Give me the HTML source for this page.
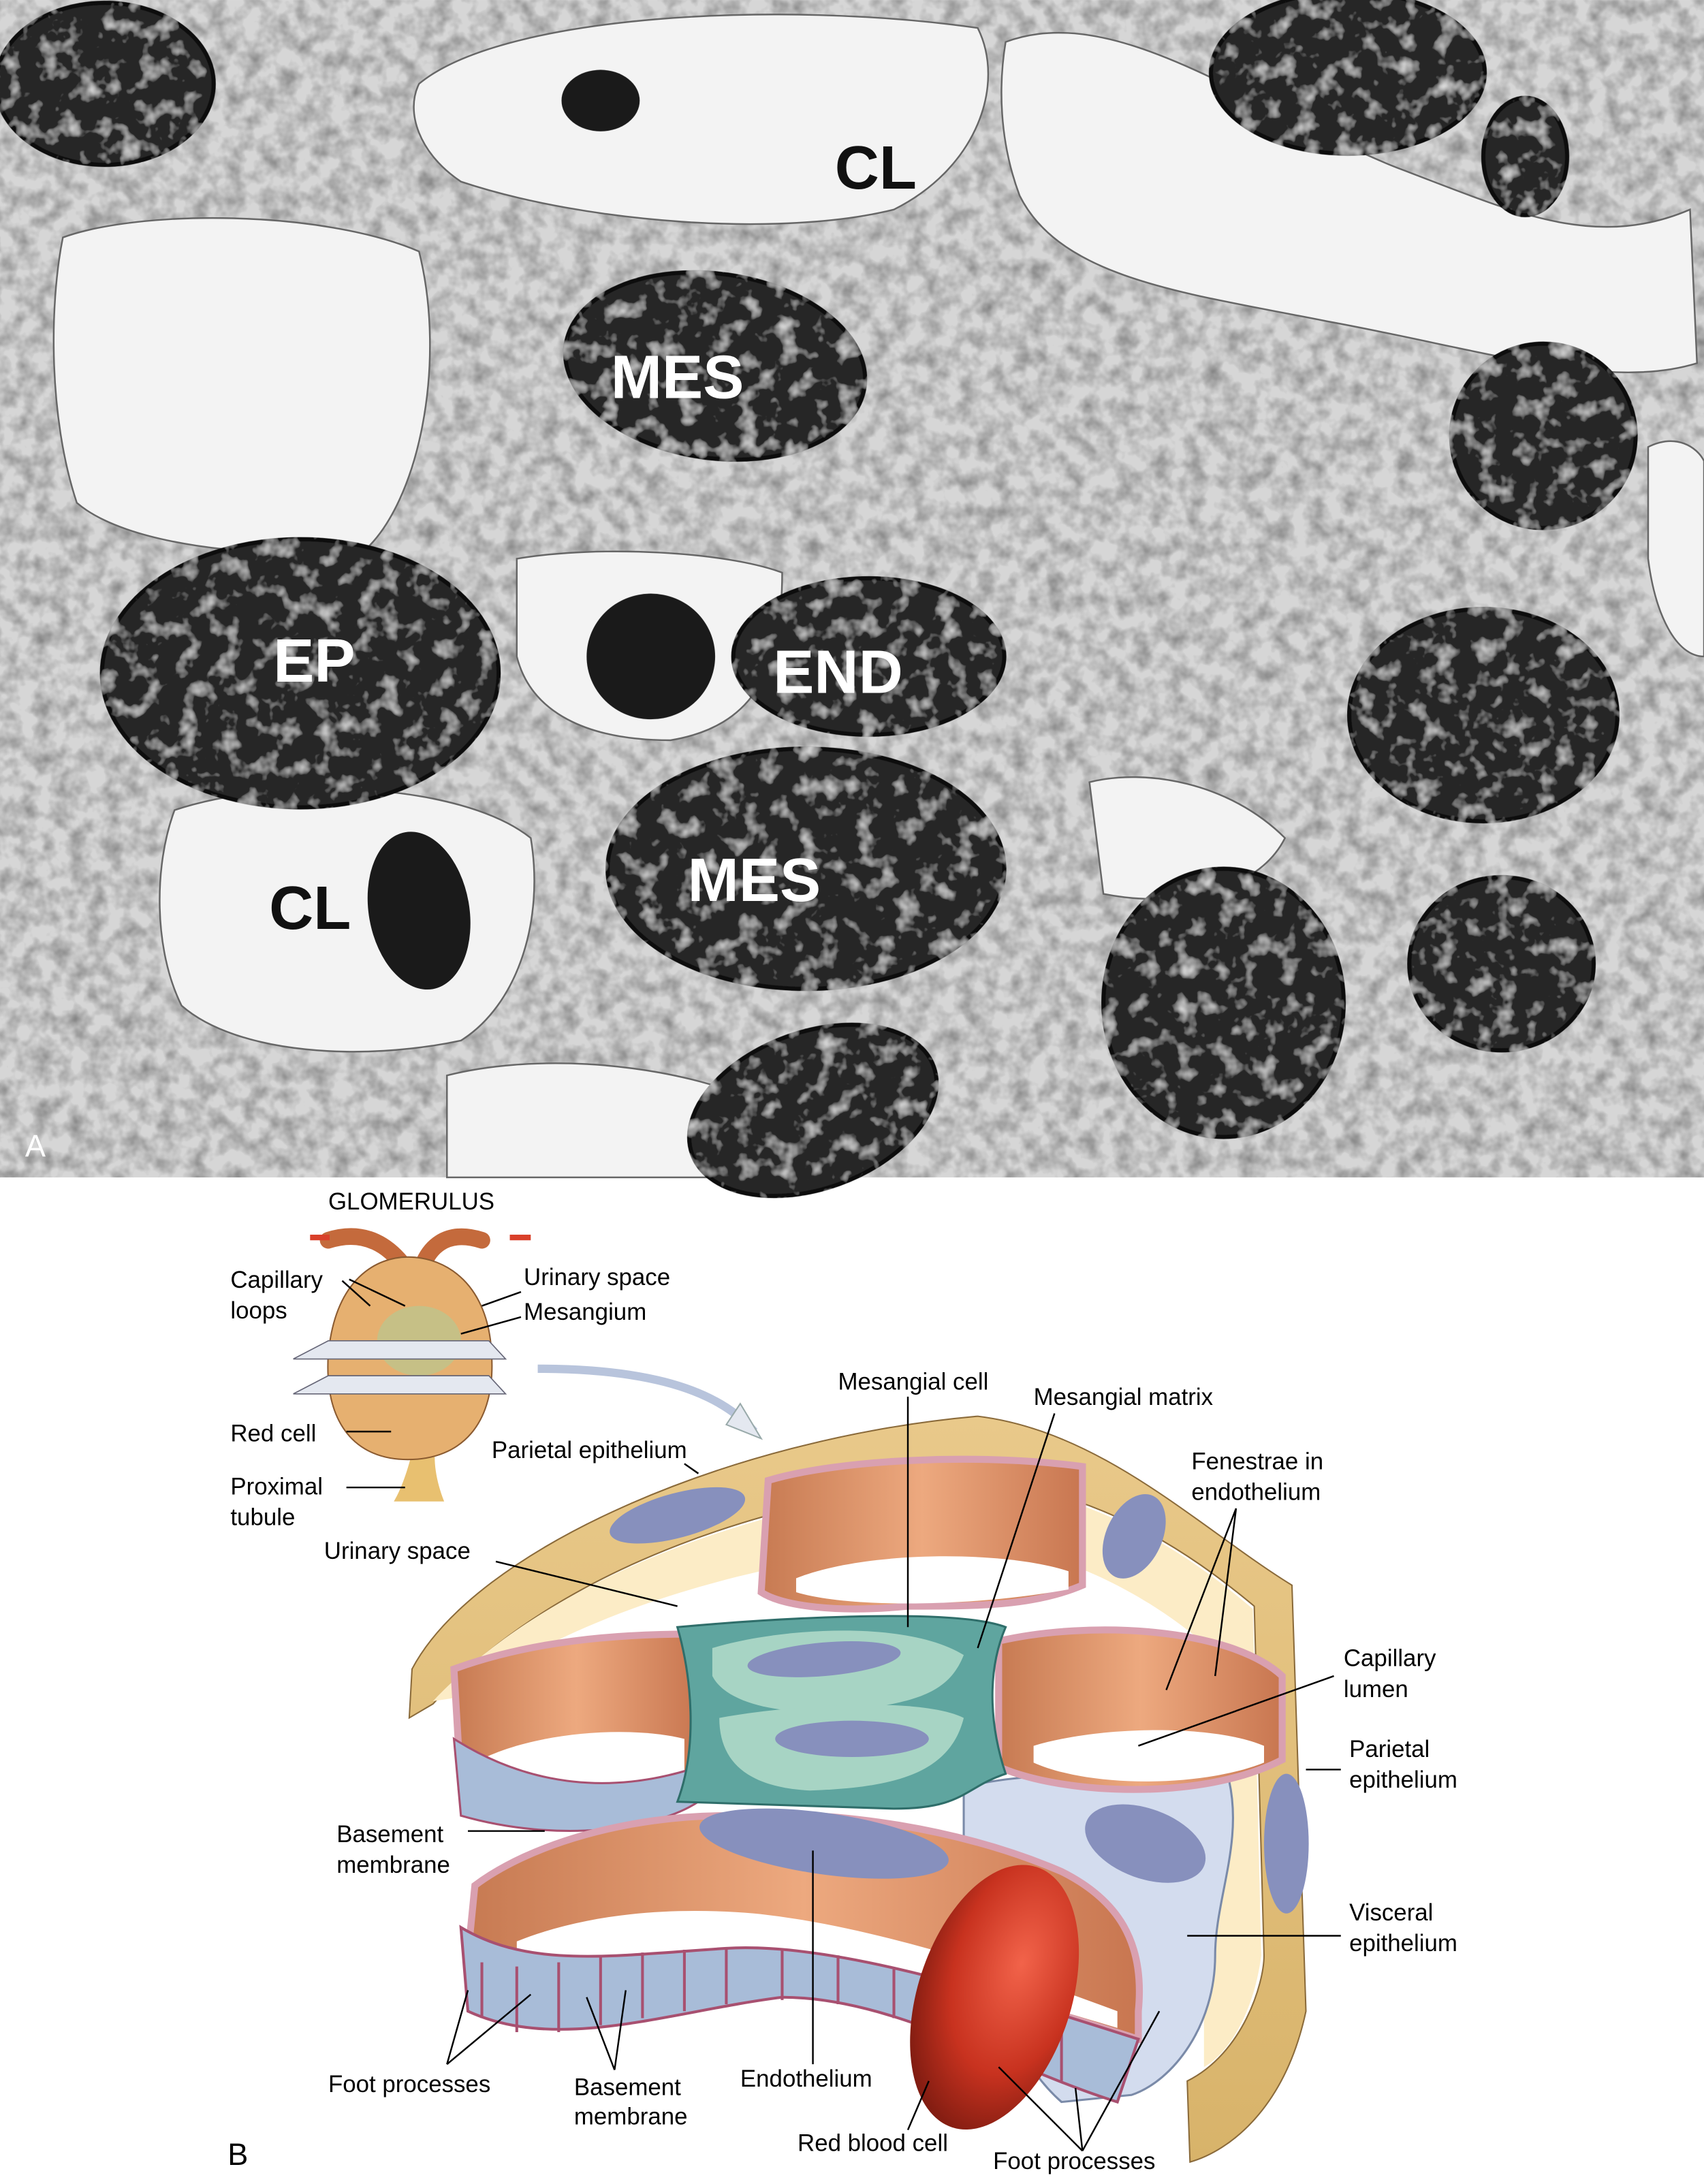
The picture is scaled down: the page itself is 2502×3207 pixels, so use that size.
<!DOCTYPE html>
<html><head><meta charset="utf-8"><style>
html,body{margin:0;padding:0;background:#fff}
svg{display:block}
text{font-family:"Liberation Sans",sans-serif}
</style></head><body>
<svg width="2502" height="3207" viewBox="0 0 1220 1563.7" xmlns="http://www.w3.org/2000/svg">
<defs>
<filter id="tex" x="0" y="0" width="100%" height="100%">
<feTurbulence type="fractalNoise" baseFrequency="0.08" numOctaves="3" seed="3"/>
<feColorMatrix values="0 0 0 0 0  0 0 0 0 0  0 0 0 0 0  0 0 0 -1.4 0.9"/>
<feComposite in2="SourceGraphic" operator="in"/>
</filter>
<filter id="nuc"><feTurbulence type="fractalNoise" baseFrequency="0.07" numOctaves="3" seed="7" result="n"/>
<feColorMatrix in="n" values="0 0 0 0 .8  0 0 0 0 .8  0 0 0 0 .8  0 0 0 2 -1.05" result="w"/>
<feComposite in="w" in2="SourceGraphic" operator="in" result="s"/>
<feMerge><feMergeNode in="SourceGraphic"/><feMergeNode in="s"/></feMerge></filter>
<linearGradient id="loop" x1="0" x2="1"><stop offset="0" stop-color="#c77a52"/><stop offset=".5" stop-color="#eda97f"/><stop offset="1" stop-color="#c87650"/></linearGradient>
<radialGradient id="rbc" cx=".6" cy=".35" r=".7"><stop offset="0" stop-color="#f2634a"/><stop offset=".6" stop-color="#c8321f"/><stop offset="1" stop-color="#7a1a10"/></radialGradient>
<linearGradient id="shell" x1="0" x2="0" y1="0" y2="1"><stop offset="0" stop-color="#e9c98a"/><stop offset="1" stop-color="#d8b36a"/></linearGradient>
</defs>

<!-- ===== Micrograph A ===== -->
<rect x="0" y="0" width="1220" height="843" fill="#d6d6d6"/>
<rect x="0" y="0" width="1220" height="843" fill="#8a8a8a" filter="url(#tex)" opacity=".45"/>
<g fill="#f3f3f3" stroke="#666" stroke-width="1.2">
<path d="M300,60 C360,10 560,0 700,20 C720,60 700,120 640,150 C560,170 420,160 330,130 C300,110 290,80 300,60Z"/>
<path d="M720,30 C800,0 900,80 1000,120 C1080,150 1140,180 1210,150 L1215,260 C1150,280 1060,250 950,230 C850,210 760,200 730,140 C715,100 715,60 720,30Z"/>
<path d="M45,170 C100,150 230,150 300,180 C320,260 300,360 260,395 C180,400 90,390 55,360 C35,300 35,220 45,170Z"/>
<path d="M125,580 C200,555 330,560 380,600 C390,660 370,720 330,745 C260,760 170,755 130,720 C110,680 110,620 125,580Z"/>
<path d="M370,400 C430,390 520,395 560,410 C560,480 540,520 480,530 C420,530 380,510 370,470Z"/>
<path d="M320,770 C380,755 460,760 520,780 L520,843 L320,843Z"/>
<path d="M780,560 C820,550 880,560 920,600 C900,640 840,650 790,640Z"/>
<path d="M1180,320 C1200,310 1215,320 1220,330 L1220,470 C1200,470 1185,440 1180,400Z"/>
</g>
<g fill="#262626" stroke="#111" stroke-width="3" filter="url(#nuc)">
<ellipse cx="75" cy="60" rx="78" ry="58"/>
<ellipse cx="965" cy="52" rx="98" ry="58"/>
<ellipse cx="1092" cy="112" rx="30" ry="42"/>
<ellipse cx="512" cy="262" rx="108" ry="66" transform="rotate(8 512 262)"/>
<ellipse cx="1105" cy="312" rx="66" ry="66"/>
<ellipse cx="215" cy="482" rx="142" ry="96"/>
<ellipse cx="622" cy="470" rx="97" ry="56"/>
<ellipse cx="1062" cy="512" rx="96" ry="76"/>
<ellipse cx="577" cy="622" rx="142" ry="86"/>
<ellipse cx="876" cy="718" rx="86" ry="96"/>
<ellipse cx="1075" cy="690" rx="66" ry="62"/>
<ellipse cx="582" cy="795" rx="92" ry="56" transform="rotate(-20 582 795)"/>
</g>
<g fill="#1a1a1a">
<ellipse cx="430" cy="72" rx="28" ry="22"/>
<ellipse cx="466" cy="470" rx="46" ry="45"/>
<ellipse cx="300" cy="652" rx="36" ry="57" transform="rotate(-10 300 652)"/>
</g>
<g font-weight="bold" font-size="44" text-anchor="middle">
<text x="627" y="135" fill="#111">CL</text>
<text x="222" y="665" fill="#111">CL</text>
<text x="485" y="285" fill="#fff">MES</text>
<text x="225" y="488" fill="#fff">EP</text>
<text x="600" y="496" fill="#fff">END</text>
<text x="540" y="645" fill="#fff">MES</text>
</g>
<text x="18" y="828" font-size="22" fill="#fff">A</text>

<!-- ===== Diagram B ===== -->
<text x="235" y="866" font-size="17">GLOMERULUS</text>
<path d="M235,888 C260,880 280,890 295,915 M345,888 C320,880 305,892 300,915" stroke="#c46a3c" stroke-width="12" fill="none" stroke-linecap="round"/>
<path d="M222,886 L236,886 M365,886 L380,886" stroke="#d9402a" stroke-width="4"/>
<path d="M295,1040 C290,1060 285,1070 282,1075 L318,1075 C312,1060 310,1045 312,1035Z" fill="#e8c070"/>
<path d="M235,970 C240,915 270,900 292,900 C320,900 350,920 352,970 C355,1020 330,1045 292,1045 C255,1045 232,1020 235,970Z" fill="#e6b070" stroke="#8a5a30" stroke-width="1"/>
<ellipse cx="300" cy="960" rx="30" ry="25" fill="#b8c890" opacity=".7"/>
<path d="M210,973 L235,960 L350,960 L362,973Z" fill="#e4e8f0" stroke="#667" stroke-width=".8"/>
<path d="M210,998 L235,985 L350,985 L362,998Z" fill="#e4e8f0" stroke="#667" stroke-width=".8"/>
<path d="M385,980 C450,980 510,990 540,1025" stroke="#b8c4dc" stroke-width="6" fill="none"/>
<path d="M530,1005 L545,1030 L520,1020Z" fill="#e4e8f0" stroke="#9aa"/>
<g font-size="17">
<text x="165" y="922">Capillary</text><text x="165" y="944">loops</text>
<text x="375" y="920">Urinary space</text><text x="375" y="945">Mesangium</text>
<text x="165" y="1032">Red cell</text>
<text x="165" y="1070">Proximal</text><text x="165" y="1092">tubule</text>
<text x="352" y="1044">Parietal epithelium</text>
<text x="232" y="1116">Urinary space</text>
<text x="600" y="995">Mesangial cell</text>
<text x="740" y="1006">Mesangial matrix</text>
<text x="853" y="1052">Fenestrae in</text><text x="853" y="1074">endothelium</text>
<text x="962" y="1193">Capillary</text><text x="962" y="1215">lumen</text>
<text x="966" y="1258">Parietal</text><text x="966" y="1280">epithelium</text>
<text x="966" y="1375">Visceral</text><text x="966" y="1397">epithelium</text>
<text x="241" y="1319">Basement</text><text x="241" y="1341">membrane</text>
<text x="235" y="1498">Foot processes</text>
<text x="411" y="1500">Basement</text><text x="411" y="1521">membrane</text>
<text x="530" y="1494">Endothelium</text>
<text x="571" y="1540">Red blood cell</text>
<text x="711" y="1553">Foot processes</text>
</g>
<text x="163" y="1550" font-size="22">B</text>

<!-- shell band -->
<path d="M293,1230 L295,1195 C340,1110 520,1030 700,1014 C790,1025 860,1095 925,1135 L935,1440 C920,1510 880,1540 852,1548 L850,1490 C890,1470 905,1420 905,1400 L898,1150 C850,1110 790,1070 700,1058 C560,1070 400,1120 310,1220 Z" fill="url(#shell)" stroke="#8a6a3a" stroke-width="1"/>
<path d="M310,1218 C400,1122 560,1072 700,1060 C790,1072 850,1112 897,1152 L903,1400 C898,1440 880,1470 862,1480 L862,1290 C875,1250 875,1200 866,1180 C820,1140 760,1110 700,1105 C560,1110 420,1150 330,1215 Z" fill="#fcecc6"/>
<ellipse cx="485" cy="1085" rx="50" ry="16" fill="#8790bd" transform="rotate(-15 485 1085)"/>
<ellipse cx="812" cy="1100" rx="20" ry="32" fill="#8790bd" transform="rotate(25 812 1100)"/>
<ellipse cx="921" cy="1320" rx="16" ry="50" fill="#8790bd"/>
<!-- visceral epi -->
<path d="M690,1280 C720,1270 820,1265 880,1275 C890,1320 870,1360 870,1400 C870,1450 840,1490 810,1500 L760,1505 C720,1470 700,1400 690,1330Z" fill="#d3dcee" stroke="#7a8aa8" stroke-width="1.5"/>
<ellipse cx="820" cy="1320" rx="45" ry="25" fill="#8790bd" transform="rotate(20 820 1320)"/>
<!-- top loop -->
<path d="M550,1060 C600,1045 700,1040 775,1050 L775,1135 C740,1150 700,1150 650,1150 C600,1155 560,1150 545,1140Z" fill="url(#loop)" stroke="#d9a0b0" stroke-width="5"/>
<path d="M570,1130 C620,1110 720,1110 765,1125 L765,1138 C700,1150 610,1152 570,1140Z" fill="#fff"/>
<!-- left loop -->
<path d="M325,1195 C380,1175 440,1170 495,1170 L500,1270 C470,1290 400,1300 330,1280Z" fill="url(#loop)" stroke="#d9a0b0" stroke-width="5"/>
<path d="M340,1262 C380,1240 450,1235 490,1245 L490,1270 C450,1285 390,1285 340,1275Z" fill="#fff"/>
<path d="M325,1245 L330,1300 C400,1320 470,1310 500,1290 L500,1265 C440,1285 380,1280 325,1245Z" fill="#a8bcd8" stroke="#a85070" stroke-width="1.5"/>
<!-- right loop -->
<path d="M715,1175 C780,1160 880,1165 918,1200 L918,1260 C860,1290 760,1285 715,1265Z" fill="url(#loop)" stroke="#d9a0b0" stroke-width="5"/>
<path d="M740,1250 C790,1235 870,1235 905,1250 L905,1262 C860,1280 780,1280 740,1262Z" fill="#fff"/>
<!-- mesangium -->
<path d="M485,1165 C540,1160 680,1150 720,1165 C705,1200 710,1240 720,1270 C690,1280 690,1295 640,1295 L485,1290 C500,1250 495,1200 485,1165Z" fill="#5fa59f" stroke="#2f6e6a" stroke-width="1.5"/>
<path d="M510,1180 C560,1165 650,1160 690,1185 C680,1210 660,1220 600,1225 C560,1228 520,1220 510,1200Z" fill="#a7d4c4"/>
<path d="M515,1230 C570,1220 660,1215 690,1230 C680,1270 640,1280 580,1282 C540,1280 515,1265 515,1230Z" fill="#a7d4c4"/>
<ellipse cx="590" cy="1188" rx="55" ry="12" fill="#8790bd" transform="rotate(-5 590 1188)"/>
<ellipse cx="610" cy="1245" rx="55" ry="13" fill="#8790bd"/>
<!-- front loop -->
<path d="M340,1350 C380,1320 450,1300 520,1300 C600,1295 690,1310 760,1340 C800,1360 820,1390 815,1440 L815,1460 C720,1430 600,1390 520,1395 C440,1400 380,1410 335,1400Z" fill="url(#loop)" stroke="#d9a0b0" stroke-width="5"/>
<path d="M370,1390 C420,1370 480,1365 540,1370 C620,1378 720,1410 800,1440 L800,1452 C720,1428 600,1392 520,1396 C440,1400 390,1405 370,1400Z" fill="#fff"/>
<ellipse cx="590" cy="1320" rx="90" ry="22" fill="#8790bd" transform="rotate(8 590 1320)"/>
<path d="M330,1380 L335,1440 C400,1470 480,1440 560,1430 C640,1430 720,1480 800,1505 L815,1460 C720,1430 600,1390 520,1395 C440,1400 380,1410 330,1380Z" fill="#a8bcd8" stroke="#a85070" stroke-width="2"/>
<g stroke="#a85070" stroke-width="2">
<line x1="345" y1="1405" x2="345" y2="1445"/><line x1="370" y1="1408" x2="370" y2="1455"/><line x1="400" y1="1405" x2="400" y2="1455"/><line x1="430" y1="1400" x2="430" y2="1450"/><line x1="460" y1="1398" x2="460" y2="1445"/><line x1="490" y1="1396" x2="490" y2="1440"/><line x1="520" y1="1395" x2="520" y2="1435"/><line x1="560" y1="1395" x2="560" y2="1432"/><line x1="600" y1="1400" x2="600" y2="1435"/><line x1="640" y1="1410" x2="640" y2="1445"/><line x1="680" y1="1420" x2="680" y2="1460"/><line x1="720" y1="1430" x2="720" y2="1475"/><line x1="760" y1="1445" x2="760" y2="1490"/>
</g>
<ellipse cx="712" cy="1430" rx="55" ry="98" fill="url(#rbc)" transform="rotate(18 712 1430)"/>
<g stroke="#000" stroke-width="1.2" fill="none">
<path d="M245,917 L265,935 M250,916 L290,935 M373,925 L345,935 M373,943 L330,955"/>
<path d="M248,1025 L280,1025 M248,1065 L290,1065"/>
<path d="M490,1048 L500,1055"/>
<path d="M355,1118 L485,1150"/>
<path d="M650,1000 L650,1165 M755,1012 L700,1180"/>
<path d="M885,1080 L835,1210 M885,1080 L870,1200"/>
<path d="M955,1200 L815,1250"/>
<path d="M960,1267 L935,1267 M960,1386 L850,1386"/>
<path d="M335,1311 L390,1311"/>
<path d="M320,1478 L335,1425 M320,1478 L380,1428 M440,1482 L420,1430 M440,1482 L448,1425"/>
<path d="M582,1478 L582,1325"/>
<path d="M650,1525 L665,1490"/>
<path d="M775,1540 L715,1480 M775,1540 L770,1495 M775,1540 L830,1440"/>
</g>
</svg>
</body></html>
